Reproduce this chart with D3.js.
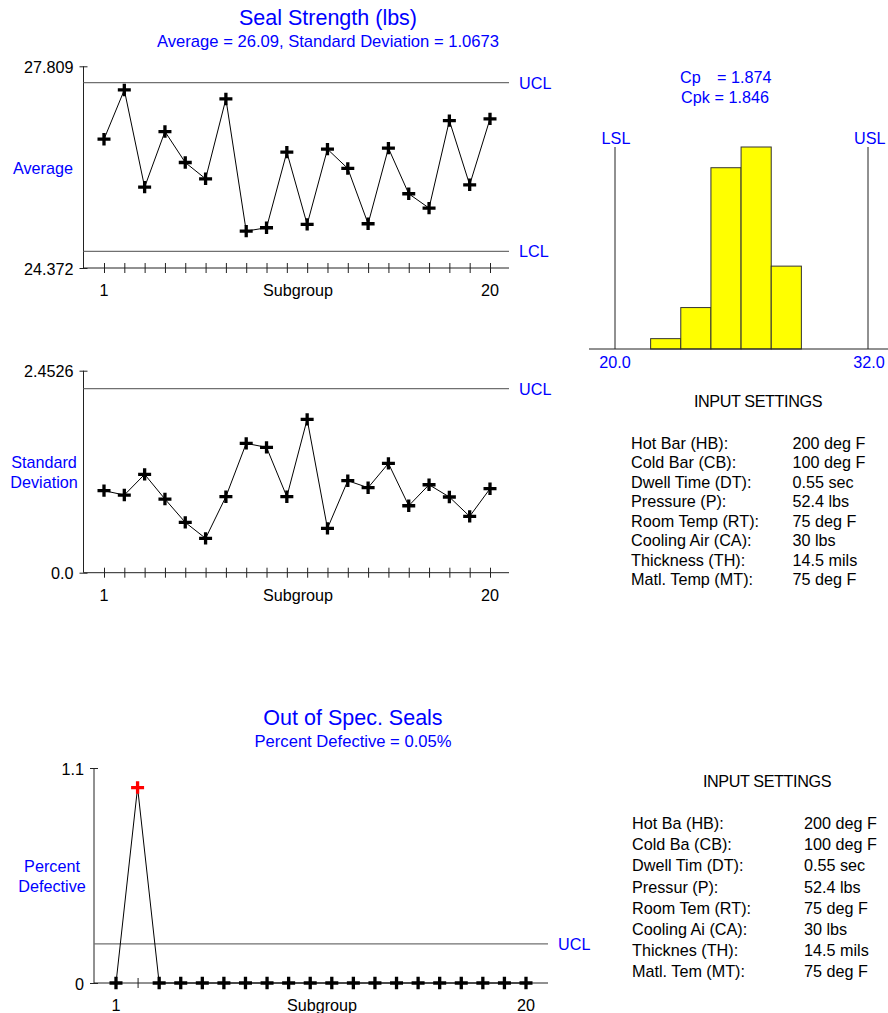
<!DOCTYPE html>
<html>
<head>
<meta charset="utf-8">
<script src="https://cdn.jsdelivr.net/npm/d3@7"></script>
<style>
  body { margin: 0; background: #fff; }
  svg { display: block; font-family: Arial, "Liberation Sans", sans-serif; }
</style>
</head>
<body>
<svg id="chart" width="888" height="1013"></svg>
<script>
// ---------- DATA ----------
const subgroups = d3.range(1, 21);
const averages = [26.567, 27.406, 25.750, 26.697, 26.170, 25.892, 27.253, 25.001, 25.058, 26.346,
                  25.115, 26.397, 26.068, 25.126, 26.414, 25.637, 25.393, 26.884, 25.790, 26.913];
const avgLimits = { ucl: 27.531, lcl: 24.656 };
const avgAxisTicks = [24.372, 27.809];

const stdDevs = [0.996, 0.943, 1.194, 0.894, 0.611, 0.417, 0.923, 1.570, 1.522, 0.923,
                 1.862, 0.538, 1.117, 1.032, 1.327, 0.813, 1.068, 0.919, 0.684, 1.020];
const sdUcl = 2.234;
const sdAxisTicks = [0.0, 2.4526];
const sdTickLabels = ["0.0", "2.4526"];

const histBinEdges = [21.69, 23.12, 24.55, 25.98, 27.41, 28.84];
const histCounts = [2, 8, 35, 39, 16];
const specLimits = { lsl: 20.0, usl: 32.0 };

const pctDefective = [0, 1.0, 0, 0, 0, 0, 0, 0, 0, 0, 0, 0, 0, 0, 0, 0, 0, 0, 0, 0];
const pctUcl = 0.2;
const pctAxisTicks = [0, 1.1];

const settingsLabels1 = ["Hot Bar (HB):", "Cold Bar (CB):", "Dwell Time (DT):", "Pressure (P):",
                         "Room Temp (RT):", "Cooling Air (CA):", "Thickness (TH):", "Matl. Temp (MT):"];
const settingsLabels2 = ["Hot Ba (HB):", "Cold Ba (CB):", "Dwell Tim (DT):", "Pressur (P):",
                         "Room Tem (RT):", "Cooling Ai (CA):", "Thicknes (TH):", "Matl. Tem (MT):"];
const settingsValues = ["200 deg F", "100 deg F", "0.55 sec", "52.4 lbs",
                        "75 deg F", "30 lbs", "14.5 mils", "75 deg F"];

// ---------- STYLE ----------
const BLUE = "#0000ff";
const AXIS = "#222";
const LIMIT = "#707070";
const FS = 16.2;
const FS_SUB = 16.6;
const FS_TITLE = 21.5;

const svg = d3.select("#chart");
const plusPath = "M-6.5,0H6.5M0,-6.2V6.2";

function text(g, x, y, str, opts = {}) {
  return g.append("text")
    .attr("x", x).attr("y", y)
    .attr("text-anchor", opts.anchor || "start")
    .attr("dominant-baseline", "central")
    .attr("font-size", opts.size || FS)
    .attr("fill", opts.color || "#000")
    .text(str);
}

function controlChart(cfg) {
  const g = svg.append("g");
  const x = d3.scaleLinear().domain([1, 20]).range(cfg.xRange);
  const y = d3.scaleLinear().domain(cfg.yDomain).range(cfg.yRange);

  // y axis with ticks (crossing the spine)
  const ya = d3.axisLeft(y).tickValues(cfg.yTicks).tickSize(4).tickPadding(6)
    .tickFormat((d, i) => cfg.yTickLabels[i]);
  const yg = g.append("g").attr("transform", `translate(${cfg.spineX},0)`).call(ya);
  yg.select(".domain").remove();
  yg.selectAll("line").attr("x2", -4).attr("x1", 4).attr("stroke", AXIS);
  yg.selectAll("text").attr("font-size", FS).attr("fill", "#000")
    .attr("font-family", "Arial, 'Liberation Sans', sans-serif").attr("dy", "0.38em");

  // spines
  g.append("line").attr("x1", cfg.spineX).attr("x2", cfg.spineX)
    .attr("y1", y(cfg.yDomain[1])).attr("y2", y(cfg.yDomain[0])).attr("stroke", AXIS);
  g.append("line").attr("x1", cfg.spineX).attr("x2", cfg.axisRight)
    .attr("y1", y(cfg.yDomain[0])).attr("y2", y(cfg.yDomain[0])).attr("stroke", AXIS);

  // x ticks crossing axis
  const xa = d3.axisBottom(x).tickValues(subgroups).tickSize(5).tickFormat("");
  const xg = g.append("g").attr("transform", `translate(0,${y(cfg.yDomain[0])})`).call(xa);
  xg.select(".domain").remove();
  xg.selectAll("line").attr("y1", -5).attr("stroke", AXIS);

  const baseY = y(cfg.yDomain[0]) + 22;
  text(g, x(1), baseY, "1", { anchor: "middle" });
  text(g, x(20), baseY, "20", { anchor: "middle" });
  text(g, cfg.subgroupX, baseY, "Subgroup", { anchor: "middle" });

  // limit lines
  cfg.limits.forEach(l => {
    g.append("line").attr("x1", cfg.spineX).attr("x2", cfg.axisRight)
      .attr("y1", y(l.v)).attr("y2", y(l.v)).attr("stroke", LIMIT).attr("stroke-width", 1.3);
    text(g, cfg.axisRight + 10, y(l.v), l.name, { color: BLUE });
  });

  // y label
  cfg.yLabel.forEach((s, i) => text(g, cfg.yLabelX, cfg.yLabelY + i * 20, s, { anchor: "middle", color: BLUE }));

  // titles
  if (cfg.title) {
    text(g, cfg.titleX, cfg.titleY, cfg.title, { anchor: "middle", color: BLUE, size: FS_TITLE });
    text(g, cfg.titleX, cfg.titleY + 23.5, cfg.subtitle, { anchor: "middle", color: BLUE, size: FS_SUB });
  }

  // series
  const line = d3.line().x((d, i) => x(subgroups[i])).y(d => y(d));
  g.append("path").datum(cfg.values).attr("d", line).attr("fill", "none")
    .attr("stroke", "#000").attr("stroke-width", 1);
  g.selectAll(".pt").data(cfg.values).enter().append("path")
    .attr("transform", (d, i) => `translate(${x(subgroups[i])},${y(d)})`)
    .attr("d", plusPath).attr("fill", "none")
    .attr("stroke", d => (cfg.highlight && d > cfg.highlight) ? "#ff0000" : "#000")
    .attr("stroke-width", 3.3);
}

// Top: averages
controlChart({
  xRange: [104, 490], spineX: 83.5, axisRight: 509,
  yDomain: [24.372, 27.809], yRange: [268, 66.3],
  yTicks: avgAxisTicks, yTickLabels: avgAxisTicks.map(d => d.toFixed(3)),
  limits: [{ name: "UCL", v: avgLimits.ucl }, { name: "LCL", v: avgLimits.lcl }],
  yLabel: ["Average"], yLabelX: 43, yLabelY: 168,
  subgroupX: 298, values: averages,
  title: "Seal Strength (lbs)", subtitle: "Average = 26.09, Standard Deviation = 1.0673",
  titleX: 328, titleY: 18
});

// Middle: std dev
controlChart({
  xRange: [104, 490], spineX: 83.5, axisRight: 509,
  yDomain: [0, 2.4526], yRange: [572.7, 370.7],
  yTicks: sdAxisTicks, yTickLabels: sdTickLabels,
  limits: [{ name: "UCL", v: sdUcl }],
  yLabel: ["Standard", "Deviation"], yLabelX: 44, yLabelY: 462,
  subgroupX: 298, values: stdDevs
});

// Bottom: percent defective
controlChart({
  xRange: [116, 526], spineX: 94, axisRight: 548,
  yDomain: [0, 1.1], yRange: [983, 768],
  yTicks: pctAxisTicks, yTickLabels: ["0", "1.1"],
  limits: [{ name: "UCL", v: pctUcl }],
  yLabel: ["Percent", "Defective"], yLabelX: 52, yLabelY: 866,
  subgroupX: 322, values: pctDefective, highlight: pctUcl,
  title: "Out of Spec. Seals", subtitle: "Percent Defective = 0.05%",
  titleX: 353, titleY: 718
});

// ---------- Histogram ----------
(function () {
  const g = svg.append("g");
  const x = d3.scaleLinear().domain([specLimits.lsl, specLimits.usl]).range([615, 868]);
  const y = d3.scaleLinear().domain([0, d3.max(histCounts)]).range([349, 147]);

  g.selectAll("rect").data(histCounts).enter().append("rect")
    .attr("x", (d, i) => x(histBinEdges[i]))
    .attr("width", (d, i) => x(histBinEdges[i + 1]) - x(histBinEdges[i]))
    .attr("y", d => y(d)).attr("height", d => y(0) - y(d))
    .attr("fill", "#ffff00").attr("stroke", "#333").attr("stroke-width", 1);

  [specLimits.lsl, specLimits.usl].forEach(v => {
    g.append("line").attr("x1", x(v)).attr("x2", x(v)).attr("y1", y(d3.max(histCounts))).attr("y2", y(0))
      .attr("stroke", AXIS);
  });
  g.append("line").attr("x1", 589).attr("x2", 888).attr("y1", y(0)).attr("y2", y(0)).attr("stroke", AXIS);

  text(g, x(specLimits.lsl) + 1, 138, "LSL", { anchor: "middle", color: BLUE });
  text(g, 854, 138, "USL", { color: BLUE });
  text(g, x(specLimits.lsl), 362, specLimits.lsl.toFixed(1), { anchor: "middle", color: BLUE });
  text(g, x(specLimits.usl) + 1, 362, specLimits.usl.toFixed(1), { anchor: "middle", color: BLUE });

  text(g, 680, 77, "Cp", { color: BLUE });
  text(g, 717, 77, "= 1.874", { color: BLUE });
  text(g, 681, 97, "Cpk", { color: BLUE });
  text(g, 714.5, 97, "= 1.846", { color: BLUE });
})();

// ---------- Input settings ----------
function settings(cx, ty, lx, vx, y0, dy, labels) {
  const g = svg.append("g");
  text(g, cx, ty, "INPUT SETTINGS", { anchor: "middle" }).attr("letter-spacing", -0.4);
  labels.forEach((l, i) => {
    text(g, lx, y0 + i * dy, l);
    text(g, vx, y0 + i * dy, settingsValues[i]);
  });
}
settings(758, 401, 631, 792.5, 442.5, 19.5, settingsLabels1);
settings(767, 781, 632, 804, 823, 21.2, settingsLabels2);
</script>
</body>
</html>
